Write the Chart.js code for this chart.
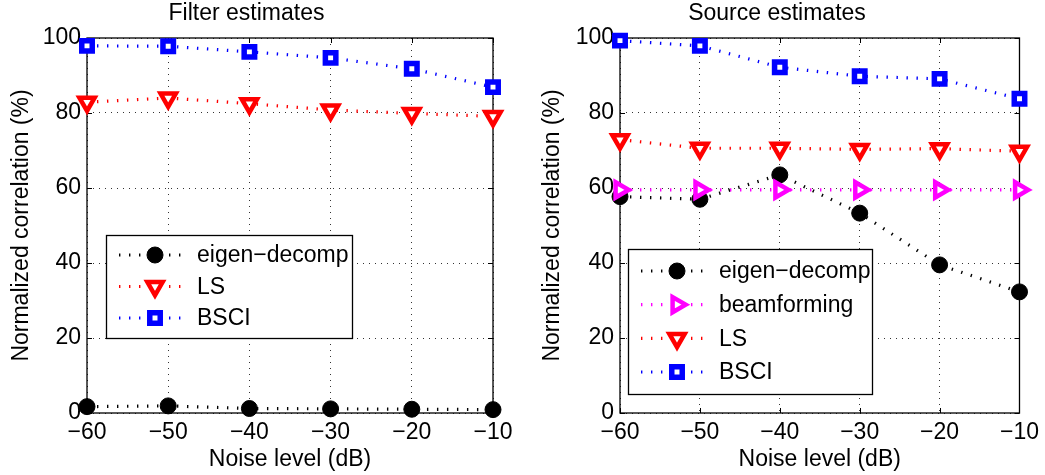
<!DOCTYPE html>
<html><head><meta charset="utf-8">
<script src="https://cdn.jsdelivr.net/npm/chart.js@4.4.0/dist/chart.umd.min.js"></script>
<style>
html,body{margin:0;padding:0;background:#fff;overflow:hidden}
#wrap{position:relative;width:1045px;height:475px;background:#fff}
canvas{position:absolute;top:0}
</style></head><body>
<div id="wrap">
<canvas id="c1" width="522" height="475" style="left:0"></canvas>
<canvas id="c2" width="523" height="475" style="left:522px"></canvas>
</div>
<script>
// ---- data ----
const noiseLevels = [-60, -50, -40, -30, -20, -10];
const xTickLabels = ['\u221260', '\u221250', '\u221240', '\u221230', '\u221220', '\u221210'];
const yTickValues = [0, 20, 40, 60, 80, 100];
const yTickLabels = ['0', '20', '40', '60', '80', '100'];

const filterTitle = 'Filter estimates';
const sourceTitle = 'Source estimates';
const xAxisTitle = 'Noise level (dB)';
const yAxisTitle = 'Normalized correlation (%)';

const filterEigen = [1.7, 1.9, 1.2, 1.1, 1.0, 0.9];
const filterLS    = [82.9, 84.0, 82.5, 80.8, 79.9, 79.1];
const filterBSCI  = [97.9, 97.8, 96.3, 94.7, 91.8, 86.9];

const sourceEigen = [57.7, 57.0, 63.5, 53.3, 39.5, 32.3];
const sourceBeam  = [59.5, 59.5, 59.5, 59.5, 59.5, 59.5];
const sourceLS    = [72.9, 70.6, 70.6, 70.3, 70.5, 69.8];
const sourceBSCI  = [99.3, 97.9, 92.2, 89.8, 89.1, 83.8];

// ---- styles ----
const FONT = '"Liberation Sans", Arial, Helvetica, sans-serif';
const FS = 23;
Chart.defaults.font.family = FONT;
Chart.defaults.font.size = FS;
Chart.defaults.color = '#000';

const LINE_W = 3.2;
const LINE_DASH = [1.4, 8.6];

const STY = {
  eigen: {label: 'eigen\u2212decomp', color: '#000000', pointStyle: 'circle', rotation: 0, radius: 8, bw: 1, fill: '#000000', order: 4},
  beam:  {label: 'beamforming', color: '#FF00FF', pointStyle: 'triangle', rotation: 90, radius: 8.8, bw: 4.5, fill: '#ffffff', order: 3},
  ls:    {label: 'LS', color: '#FF0000', pointStyle: 'triangle', rotation: 180, radius: 8.8, bw: 4.5, fill: '#ffffff', order: 2},
  bsci:  {label: 'BSCI', color: '#0000FF', pointStyle: 'rect', rotation: 0, radius: 7.4, bw: 5.5, fill: '#ffffff', order: 1}
};

function series(key, values) {
  const s = STY[key];
  return {
    label: s.label,
    data: values.map((v, i) => ({x: noiseLevels[i], y: v})),
    borderColor: s.color,
    backgroundColor: s.fill,
    borderWidth: LINE_W,
    borderDash: LINE_DASH,
    borderCapStyle: 'butt',
    tension: 0,
    pointStyle: s.pointStyle,
    pointRotation: s.rotation,
    pointRadius: s.radius,
    pointHoverRadius: s.radius,
    pointBorderWidth: s.bw,
    pointBorderColor: s.color,
    pointBackgroundColor: s.fill,
    clip: false,
    order: s.order,
    _sty: s
  };
}

function drawMarker(ctx, s, x, y) {
  const r = s.radius;
  ctx.beginPath();
  if (s.pointStyle === 'circle') {
    ctx.arc(x, y, r, 0, Math.PI * 2);
  } else if (s.pointStyle === 'triangle') {
    let rad = s.rotation * Math.PI / 180;
    ctx.moveTo(x + Math.sin(rad) * r, y - Math.cos(rad) * r);
    rad += 2 * Math.PI / 3;
    ctx.lineTo(x + Math.sin(rad) * r, y - Math.cos(rad) * r);
    rad += 2 * Math.PI / 3;
    ctx.lineTo(x + Math.sin(rad) * r, y - Math.cos(rad) * r);
    ctx.closePath();
  } else {
    const h = Math.SQRT1_2 * r;
    ctx.rect(x - h, y - h, 2 * h, 2 * h);
  }
  ctx.setLineDash([]);
  ctx.fillStyle = s.fill; ctx.fill();
  ctx.lineWidth = s.bw; ctx.strokeStyle = s.color; ctx.stroke();
}

// frame + inward ticks (drawn under the data)
const framePlugin = {
  id: 'frame',
  beforeDatasetsDraw(chart) {
    const {ctx, chartArea: a, scales: {x, y}} = chart;
    ctx.save();
    ctx.setLineDash([]);
    ctx.strokeStyle = '#000';
    ctx.lineWidth = 1.3;
    ctx.strokeRect(a.left, a.top, a.right - a.left, a.bottom - a.top);
    ctx.lineWidth = 1;
    ctx.beginPath();
    x.ticks.forEach(t => {
      const px = Math.round(x.getPixelForValue(t.value)) + 0.5;
      ctx.moveTo(px, a.bottom); ctx.lineTo(px, a.bottom - 5);
      ctx.moveTo(px, a.top); ctx.lineTo(px, a.top + 5);
    });
    y.ticks.forEach(t => {
      const py = Math.round(y.getPixelForValue(t.value)) + 0.5;
      ctx.moveTo(a.left, py); ctx.lineTo(a.left + 5, py);
      ctx.moveTo(a.right, py); ctx.lineTo(a.right - 5, py);
    });
    ctx.stroke();
    ctx.restore();
  }
};

// inset legend box
const insetLegend = {
  id: 'insetLegend',
  afterDraw(chart, args, o) {
    const ctx = chart.ctx;
    const ds = chart.data.datasets;
    ctx.save();
    ctx.fillStyle = '#fff';
    ctx.fillRect(o.x, o.y, o.w, o.h);
    ctx.setLineDash([]);
    ctx.lineWidth = 1.3;
    ctx.strokeStyle = '#000';
    ctx.strokeRect(o.x + 0.5, o.y + 0.5, o.w, o.h);
    const n = ds.length;
    const step = (o.h - 2 * o.edge) / (n - 1);
    ds.forEach((d, i) => {
      const s = d._sty;
      const yy = o.y + o.edge + i * step;
      ctx.beginPath();
      ctx.setLineDash(LINE_DASH);
      ctx.lineWidth = LINE_W;
      ctx.strokeStyle = s.color;
      ctx.moveTo(o.x + 13, yy); ctx.lineTo(o.x + 78, yy);
      ctx.stroke();
      drawMarker(ctx, s, o.x + 49, yy);
      ctx.fillStyle = '#000';
      ctx.font = FS + 'px ' + FONT;
      ctx.textBaseline = 'middle';
      ctx.textAlign = 'left';
      ctx.fillText(d.label, o.x + 91, yy + 1);
    });
    ctx.restore();
  }
};

function makeOptions(titleText, padL, padR, yWidth, legendBox) {
  return {
    responsive: false,
    animation: false,
    events: [],
    layout: {padding: {left: padL, right: padR, top: 0, bottom: 0}},
    plugins: {
      legend: {display: false},
      tooltip: {enabled: false},
      title: {display: true, text: titleText, font: {size: FS, weight: 'normal'}, color: '#000', padding: {top: 0, bottom: 10.4}},
      insetLegend: legendBox
    },
    scales: {
      x: {
        type: 'linear', min: -60, max: -10,
        afterFit: s => { s.height = 62; },
        ticks: {stepSize: 10, autoSkip: false, maxRotation: 0, padding: 6, color: '#000',
          callback: v => xTickLabels[noiseLevels.indexOf(v)]},
        grid: {color: '#333', lineWidth: 1, drawTicks: false},
        border: {display: false, dash: [1, 5]},
        title: {display: true, text: xAxisTitle, color: '#000', font: {size: FS}, padding: {top: 0, bottom: 2}}
      },
      y: {
        min: 0, max: 100,
        afterFit: s => { s.width = yWidth; },
        ticks: {stepSize: 20, padding: 6, color: '#000',
          callback: v => yTickLabels[yTickValues.indexOf(v)]},
        grid: {color: '#333', lineWidth: 1, drawTicks: false},
        border: {display: false, dash: [1, 5]},
        title: {display: true, text: yAxisTitle, color: '#000', font: {size: FS}, padding: {top: 8, bottom: 0}}
      }
    }
  };
}

new Chart(document.getElementById('c1'), {
  type: 'line',
  data: {datasets: [series('eigen', filterEigen), series('ls', filterLS), series('bsci', filterBSCI)]},
  options: makeOptions(filterTitle, 0, 29, 87, {x: 106, y: 235, w: 246, h: 103, edge: 20}),
  plugins: [framePlugin, insetLegend]
});

new Chart(document.getElementById('c2'), {
  type: 'line',
  data: {datasets: [series('eigen', sourceEigen), series('beam', sourceBeam), series('ls', sourceLS), series('bsci', sourceBSCI)]},
  options: makeOptions(sourceTitle, 9, 22, 89, {x: 106, y: 249, w: 244, h: 145, edge: 22}),
  plugins: [framePlugin, insetLegend]
});
</script>
</body></html>
